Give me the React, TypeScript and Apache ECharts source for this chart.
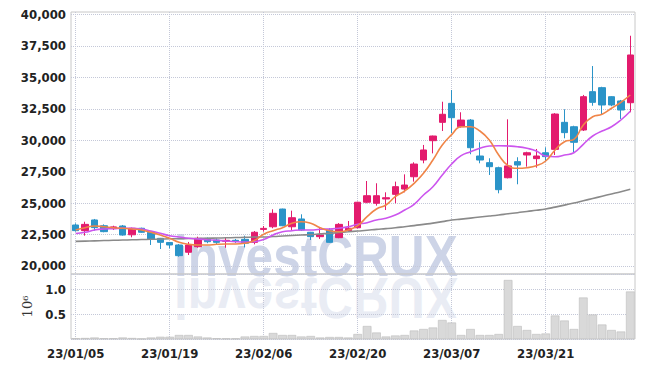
import React, { useEffect, useRef } from 'react';
import * as echarts from 'echarts';

const dates = [
  '23/01/05', '23/01/06', '23/01/09', '23/01/10', '23/01/11', '23/01/12', '23/01/13', '23/01/16', '23/01/17', '23/01/18',
  '23/01/19', '23/01/20', '23/01/25', '23/01/26', '23/01/27', '23/01/30', '23/01/31', '23/02/01', '23/02/02', '23/02/03',
  '23/02/06', '23/02/07', '23/02/08', '23/02/09', '23/02/10', '23/02/13', '23/02/14', '23/02/15', '23/02/16', '23/02/17',
  '23/02/20', '23/02/21', '23/02/22', '23/02/23', '23/02/24', '23/02/27', '23/02/28', '23/03/02', '23/03/03', '23/03/06',
  '23/03/07', '23/03/08', '23/03/09', '23/03/10', '23/03/13', '23/03/14', '23/03/15', '23/03/16', '23/03/17', '23/03/20',
  '23/03/21', '23/03/22', '23/03/23', '23/03/24', '23/03/27', '23/03/28', '23/03/29', '23/03/30', '23/03/31', '23/04/03',
];

const opens = [
  23250, 22800, 23650, 23190, 22980, 23170, 22470, 22990, 22670, 22190,
  21860, 21660, 21080, 21520, 22190, 22055, 21950, 22030, 22110, 21870,
  22900, 23110, 24520, 23110, 23730, 22670, 22320, 22850, 22240, 22800,
  23030, 25060, 24980, 25320, 25690, 26110, 27090, 28420, 29960, 31420,
  32930, 31070, 31600, 28740, 28210, 27810, 27010, 28290, 28820, 28530,
  29000, 29270, 31420, 31070, 30810, 33860, 34180, 33460, 33120, 32980,
];
const closes = [
  22800, 23300, 23040, 22720, 23100, 22450, 22990, 22670, 22110, 21870,
  21660, 20810, 21660, 22190, 21920, 21870, 22030, 21950, 21800, 22670,
  22980, 24180, 23190, 23830, 22850, 22320, 22450, 21870, 23300, 22990,
  25060, 25580, 25580, 25420, 26300, 26430, 28100, 29220, 30330, 32060,
  31790, 31600, 29400, 28420, 27890, 26060, 27950, 28020, 29000, 28740,
  28690, 32080, 30600, 29830, 33460, 33010, 32800, 32800, 32400, 36780,
];
const lows = [
  22720, 22400, 22800, 22670, 22850, 22400, 22270, 22640, 21660, 21340,
  21390, 20730, 20860, 21440, 21800, 21740, 21440, 21820, 21470, 21710,
  22720, 22990, 23150, 22850, 22770, 22060, 22140, 21840, 22200, 22720,
  22990, 24980, 24790, 24440, 24980, 25850, 26700, 28160, 28950, 30730,
  30550, 31000, 28880, 28160, 27230, 25770, 26960, 26490, 27890, 27810,
  28340, 28820, 30150, 29040, 30730, 32740, 32060, 32700, 31690, 32220,
];
const highs = [
  23380, 23510, 23730, 23300, 23190, 23250, 23040, 23040, 22700, 22220,
  21900, 21740, 21900, 22320, 22250, 22190, 22270, 22140, 22400, 22770,
  23170, 24500, 24550, 24390, 24100, 22700, 23030, 23000, 23400, 23570,
  25100, 26750, 26570, 25850, 26700, 27280, 28240, 29620, 30360, 33060,
  33990, 32220, 31680, 29830, 28560, 27890, 31660, 28640, 29080, 29300,
  29430, 32150, 32460, 31150, 33600, 35900, 34250, 33500, 33200, 38310,
];

const maShort = [
  22852, 23035, 23170, 23114, 23035, 22987, 22931, 22852, 22668, 22454,
  22191, 21873, 21714, 21658, 21658, 21714, 21738, 21738, 21794, 22016,
  22509, 22796, 23035, 23385, 23512, 23385, 23035, 22796, 22716, 22852,
  23194, 23910, 24523, 24841, 25502, 25955, 26568, 27364, 28422, 29616,
  30436, 31072, 31072, 30730, 30014, 28820, 27968, 27762, 27810, 27968,
  28343, 29218, 29879, 30070, 31207, 31868, 32059, 32537, 33014, 33595,
];
const maMid = [
  22574, 22668, 22852, 22931, 22955, 22987, 22987, 22931, 22772, 22589,
  22398, 22295, 22191, 22135, 22080, 22032, 21976, 21920, 21896, 21920,
  22096, 22454, 22716, 22796, 22852, 22852, 22907, 22931, 22987, 23114,
  23305, 23433, 23647, 23783, 24045, 24443, 24897, 25637, 26297, 27229,
  28104, 28764, 29083, 29354, 29537, 29561, 29537, 29481, 29354, 29139,
  28740, 28685, 28820, 29003, 29672, 30332, 30730, 31072, 31605, 32297,
];
const maLong = [
  21950, 21970, 21990, 22010, 22030, 22050, 22070, 22090, 22110, 22130,
  22150, 22160, 22170, 22180, 22190, 22210, 22230, 22250, 22270, 22290,
  22300, 22330, 22370, 22410, 22450, 22490, 22540, 22590, 22650, 22710,
  22772, 22830, 22900, 22960, 23030, 23114, 23200, 23300, 23400, 23520,
  23647, 23720, 23800, 23880, 23960, 24045, 24140, 24230, 24330, 24420,
  24520, 24670, 24830, 25000, 25180, 25360, 25540, 25720, 25900, 26090,
];

const volumes = [
  15000, 20000, 30000, 15000, 15000, 30000, 20000, 5000, 30000, 45000,
  45000, 80000, 80000, 50000, 30000, 15000, 10000, 10000, 50000, 60000,
  60000, 120000, 80000, 80000, 50000, 60000, 30000, 40000, 40000, 30000,
  100000, 260000, 130000, 50000, 70000, 80000, 170000, 200000, 230000, 380000,
  330000, 80000, 200000, 80000, 80000, 100000, 1180000, 260000, 180000, 100000,
  110000, 470000, 370000, 200000, 830000, 490000, 290000, 180000, 150000, 950000,
];

const priceTicks = [20000, 22500, 25000, 27500, 30000, 32500, 35000, 37500, 40000];

const labelFont = "'DejaVu Sans Condensed', 'Liberation Sans Narrow', 'Roboto', sans-serif";
const gridDot = { type: 'dotted' as const, color: '#c4c8d8', width: 1 };

export default function App() {
  const ref = useRef<HTMLDivElement>(null);
  useEffect(() => {
    if (!ref.current) return;
    const chart = echarts.init(ref.current, undefined, { renderer: 'svg' });
    const candleData = opens.map((o, i) => [o, closes[i], lows[i], highs[i]]);
    const fmt = (v: number) => String(v).replace(/\B(?=(\d{3})+(?!\d))/g, ',');
    const option: any = {
      animation: false,
      backgroundColor: '#ffffff',
      grid: [
        { left: 71, top: 12, width: 564, height: 262, show: true, borderColor: '#c8c8c8', borderWidth: 1, backgroundColor: 'transparent' },
        { left: 71, top: 274, width: 564, height: 65, show: true, borderColor: '#c8c8c8', borderWidth: 1, backgroundColor: 'transparent' },
      ],
      xAxis: [
        {
          type: 'category', gridIndex: 0, data: dates, boundaryGap: true,
          axisLine: { show: false }, axisTick: { show: false }, axisLabel: { show: false },
          splitLine: { show: true, interval: 9, alignWithLabel: true, lineStyle: gridDot },
        },
        {
          type: 'category', gridIndex: 1, data: dates, boundaryGap: true,
          axisLine: { show: false }, axisTick: { show: false },
          axisLabel: { show: true, interval: 9, margin: 8, color: '#222', fontSize: 13, fontWeight: 'bold', fontFamily: labelFont },
          splitLine: { show: true, interval: 9, alignWithLabel: true, lineStyle: gridDot },
        },
      ],
      yAxis: [
        {
          type: 'value', gridIndex: 0, min: 19350, max: 40200, scale: true,
          axisLine: { show: false },
          axisTick: { show: false, customValues: priceTicks },
          axisLabel: { customValues: priceTicks, formatter: (v: number) => fmt(v), margin: 5, color: '#222', fontSize: 13, fontWeight: 'bold', fontFamily: labelFont },
          splitLine: { show: true, lineStyle: gridDot },
        },
        {
          type: 'value', gridIndex: 1, min: 0, max: 1300000, interval: 500000,
          name: '10⁶', nameLocation: 'middle', nameRotate: 90, nameGap: 36,
          nameTextStyle: { fontFamily: "'DejaVu Serif', serif", fontSize: 13, color: '#333' },
          axisLine: { show: false }, axisTick: { show: false },
          axisLabel: {
            formatter: (v: number) => (v === 500000 || v === 1000000 ? (v / 1e6).toFixed(1) : ''),
            margin: 5, color: '#222', fontSize: 13, fontWeight: 'bold', fontFamily: labelFont,
          },
          splitLine: { show: true, lineStyle: gridDot },
        },
      ],
      graphic: [
        {
          type: 'text', x: 174, y: 285, scaleX: 0.855, z: -1, silent: true,
          style: { text: 'investCRUX', font: "bold 58px 'Liberation Sans', Arial, sans-serif", fill: '#cdd4e7', align: 'left', verticalAlign: 'bottom' },
        },
        {
          type: 'text', x: 174, y: 269, scaleX: 0.855, scaleY: -1, z: -1, silent: true,
          style: { text: 'investCRUX', font: "bold 58px 'Liberation Sans', Arial, sans-serif", fill: '#e9ecf4', align: 'left', verticalAlign: 'bottom' },
        },
      ],
      series: [
        {
          type: 'candlestick', xAxisIndex: 0, yAxisIndex: 0, data: candleData, barWidth: 7,
          itemStyle: { color: '#e31b6d', color0: '#2b94c8', borderColor: '#e31b6d', borderColor0: '#2b94c8', borderWidth: 1 },
        },
        {
          type: 'line', xAxisIndex: 0, yAxisIndex: 0, data: maLong, showSymbol: false, smooth: true,
          lineStyle: { color: '#8a8a8a', width: 1.6 }, z: 3,
        },
        {
          type: 'line', xAxisIndex: 0, yAxisIndex: 0, data: maMid, showSymbol: false, smooth: true,
          lineStyle: { color: '#cc55ee', width: 1.6 }, z: 3,
        },
        {
          type: 'line', xAxisIndex: 0, yAxisIndex: 0, data: maShort, showSymbol: false, smooth: true,
          lineStyle: { color: '#f08548', width: 1.6 }, z: 4,
        },
        {
          type: 'bar', xAxisIndex: 1, yAxisIndex: 1, data: volumes, barCategoryGap: '8%',
          itemStyle: { color: '#d9d9d9', borderColor: '#bcbcbc', borderWidth: 0.6 },
        },
      ],
    };
    chart.setOption(option);
    return () => chart.dispose();
  }, []);
  return <div ref={ref} style={{ position: 'fixed', left: 0, top: 0, width: 645, height: 368 }} />;
}
